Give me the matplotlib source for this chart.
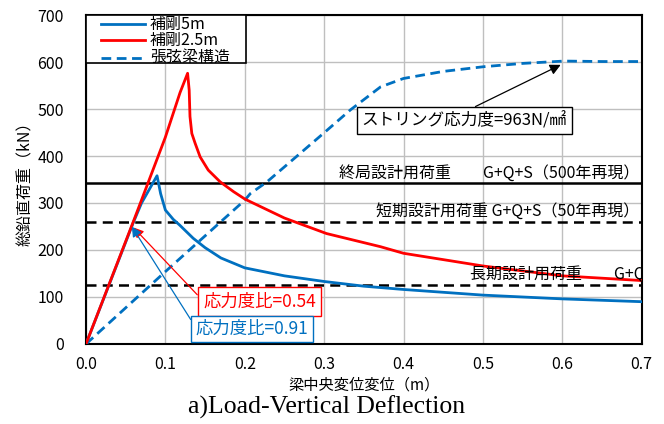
import matplotlib
matplotlib.use("Agg")
import matplotlib.pyplot as plt
from matplotlib.patches import Rectangle
from matplotlib.lines import Line2D

plt.rcParams['font.family'] = ['Noto Sans CJK JP', 'DejaVu Sans']

# 補剛5m
x_b5 = [0.0, 0.03, 0.06, 0.07, 0.0895, 0.094, 0.1, 0.11, 0.118, 0.135, 0.15, 0.17, 0.2, 0.25, 0.3, 0.35, 0.4, 0.5, 0.6, 0.7]
y_b5 = [0, 130, 260, 300, 358, 320, 285, 265, 253, 225, 205, 183, 162, 145, 133, 123, 116, 104, 96, 90]
# 補剛2.5m
x_b25 = [0.0, 0.06, 0.1, 0.1185, 0.128, 0.130, 0.131, 0.1333, 0.1375, 0.1438, 0.154, 0.169, 0.186, 0.2005, 0.25, 0.303, 0.371, 0.4, 0.5, 0.6, 0.7]
y_b25 = [0, 262, 440, 535, 576, 540, 484, 448, 427, 398, 370, 345, 324, 308, 268, 235, 207, 193, 166, 145, 135]
# 張弦梁構造
x_st = [0.0, 0.1, 0.2, 0.207, 0.228, 0.299, 0.333, 0.371, 0.4, 0.45, 0.501, 0.55, 0.602, 0.65, 0.7]
y_st = [0, 154, 306, 320, 345, 448, 498, 547, 565, 580, 590, 597, 602, 601, 601]

series_labels = ['補剛5m', '補剛2.5m', '張弦梁構造']

ultimate = 343
short_term = 260
long_term = 126

fig = plt.figure(figsize=(6.64, 4.24), dpi=100)
ax = fig.add_axes([0.1295, 0.1887, 0.9664 - 0.1295, 0.9646 - 0.1887])

blue = '#0070C0'
red = '#FF0000'
st_dash = (0, (3.5, 2))

ax.plot(x_b5, y_b5, color=blue, lw=2.0, zorder=4)
ax.plot(x_b25, y_b25, color=red, lw=2.0, zorder=5)
ax.plot(x_st, y_st, color=blue, lw=2.0, ls=st_dash, zorder=3)

ax.axhline(ultimate, color='black', lw=1.8, zorder=2)
ax.axhline(short_term, color='black', lw=1.8, ls=(0, (4, 2.5)), zorder=2)
ax.axhline(long_term, color='black', lw=1.8, ls=(0, (4, 2.5)), zorder=2)

ax.set_xlim(0, 0.7)
ax.set_ylim(0, 700)
ax.set_xticks([0.0, 0.1, 0.2, 0.3, 0.4, 0.5, 0.6, 0.7])
ax.set_xticklabels(['0.0', '0.1', '0.2', '0.3', '0.4', '0.5', '0.6', '0.7'])
ax.set_yticks(range(0, 701, 100))
ax.grid(True, color='#BFBFBF', lw=1.0, zorder=0)
ax.set_axisbelow(True)
ax.tick_params(axis='x', length=0, labelsize=11.5, pad=9)
ax.tick_params(axis='y', length=0, labelsize=11.5, pad=16)
for s in ax.spines.values():
    s.set_color('black')
    s.set_linewidth(1.5)

ax.set_xlabel('梁中央変位変位（m）', fontsize=11, labelpad=2)
ax.set_ylabel('総鉛直荷重（kN）', fontsize=11.5, labelpad=2)

fs = 11.5
ax.text(0.697, ultimate + 3, '終局設計用荷重　　G+Q+S（500年再現）', ha='right', va='bottom', fontsize=fs, zorder=6)
ax.text(0.697, short_term + 5, '短期設計用荷重 G+Q+S（50年再現）', ha='right', va='bottom', fontsize=fs, zorder=6)
ax.text(0.705, long_term + 5, '長期設計用荷重　　G+Q', ha='right', va='bottom', fontsize=fs, zorder=6, clip_on=True)

ax.annotate('ストリング応力度=963N/㎟', xy=(0.598, 594), xytext=(0.4765, 475),
            fontsize=12, ha='center', va='center', zorder=7,
            bbox=dict(boxstyle='square,pad=0.3', fc='white', ec='black', lw=1.0),
            arrowprops=dict(arrowstyle='-|>', color='black', lw=0.9, mutation_scale=16,
                            shrinkA=0, shrinkB=0, relpos=(0.5, 1.0)))

ax.annotate('応力度比=0.54', xy=(0.0597, 248), xytext=(0.2184, 90),
            fontsize=12.5, color=red, ha='center', va='center', zorder=7,
            bbox=dict(boxstyle='square,pad=0.3', fc='white', ec=red, lw=1.0),
            arrowprops=dict(arrowstyle='-|>', color=red, lw=0.9, mutation_scale=15,
                            shrinkA=0, shrinkB=0, relpos=(0.0, 0.55)))

ax.annotate('応力度比=0.91', xy=(0.0577, 250), xytext=(0.209, 32),
            fontsize=12.5, color=blue, ha='center', va='center', zorder=7,
            bbox=dict(boxstyle='square,pad=0.25', fc='white', ec=blue, lw=1.0),
            arrowprops=dict(arrowstyle='-|>', color=blue, lw=0.9, mutation_scale=15,
                            shrinkA=0, shrinkB=0, relpos=(0.0, 0.6)))

# legend drawn in axes coordinates
ax.add_patch(Rectangle((0.0, 0.853), 0.2874, 0.147, transform=ax.transAxes,
                       fc='white', ec='black', lw=1.2, zorder=8, clip_on=False))
leg_styles = [dict(color=blue, ls='-'), dict(color=red, ls='-'), dict(color=blue, ls=st_dash)]
leg_rows = [0.9726, 0.924, 0.8702]
for lab, st, yr in zip(series_labels, leg_styles, leg_rows):
    ax.add_line(Line2D([0.0265, 0.106], [yr, yr], transform=ax.transAxes, lw=2.0,
                       zorder=9, **st))
    ax.text(0.115, yr, lab, transform=ax.transAxes, fontsize=11.5, ha='left', va='center',
            zorder=9)

fig.text(327 / 664, 0.012, 'a)Load-Vertical Deflection', ha='center', va='bottom',
         fontsize=18.5, family=['Liberation Serif'])

fig.savefig('out.png', dpi=100)
